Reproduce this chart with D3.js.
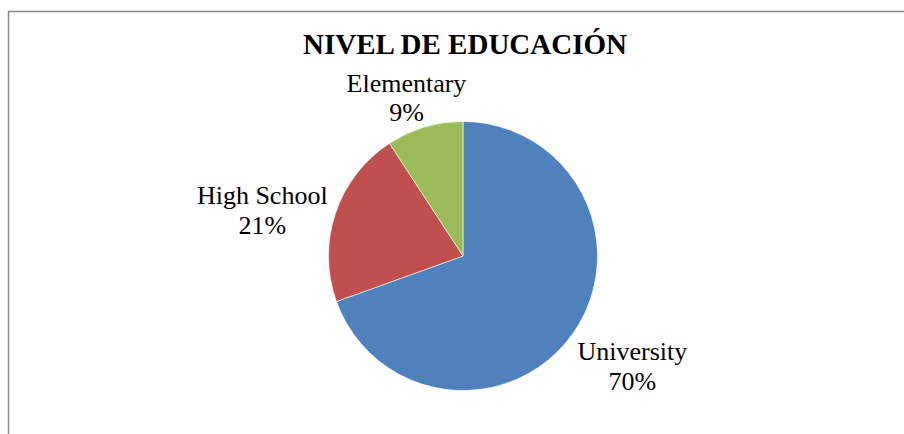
<!DOCTYPE html>
<html>
<head>
<meta charset="utf-8">
<script src="https://cdn.jsdelivr.net/npm/d3@7"></script>
<style>
  body { margin: 0; background: #fff; }
  svg { display: block; }
  text { font-family: "Liberation Serif", "Times New Roman", serif; fill: #000; }
</style>
</head>
<body>
<div id="vis"></div>
<script>
// chart data
var categories = ["University", "High School", "Elementary"];
var values = [69.5, 21.3, 9.2];
var colours = ["#4F81BD", "#C0504D", "#9BBB59"];
var title = "NIVEL DE EDUCACIÓN";

var width = 904;
var height = 434;

var cx = 463, cy = 256, radius = 134.5;

var svg = d3.select("#vis")
    .append("svg")
    .attr("width", width)
    .attr("height", height);

// chart area border (runs off the right and bottom edge)
svg.append("rect")
    .attr("x", 8.5)
    .attr("y", 11.5)
    .attr("width", 1000)
    .attr("height", 1000)
    .attr("fill", "none")
    .attr("stroke", "#8a8a8a")
    .attr("stroke-width", 1.5);

svg.append("text")
    .attr("x", 465)
    .attr("y", 53.5)
    .attr("text-anchor", "middle")
    .style("font-size", "29px")
    .style("font-weight", "bold")
    .text(title);

var data = categories.map(function(c, i) {
    return { name: c, value: values[i], colour: colours[i] };
});

var total = d3.sum(values);

// clockwise from 12 o'clock, University first
var pie = d3.pie()
    .sort(null)
    .value(function(d) { return d.value; });

var arc = d3.arc()
    .innerRadius(0)
    .outerRadius(radius);

var g = svg.append("g")
    .attr("transform", "translate(" + cx + "," + cy + ")");

var arcs = pie(data);

g.selectAll(".slice")
    .data(arcs)
    .enter()
    .append("path")
    .attr("class", "slice")
    .attr("d", arc)
    .attr("fill", function(d) { return d.data.colour; })
    .attr("stroke", "#fff")
    .attr("stroke-width", 0.6);

// labels outside the end of each slice
var labelR = 143;
var fs = 26;
var lineH = 29.5;
var nudge = [3, 10];

var labels = g.selectAll(".label")
    .data(arcs)
    .enter()
    .append("text")
    .attr("class", "label")
    .attr("text-anchor", "middle")
    .style("font-size", fs + "px");

labels.append("tspan")
    .attr("x", 0)
    .attr("dy", 0)
    .text(function(d) { return d.data.name; });

labels.append("tspan")
    .attr("x", 0)
    .attr("dy", lineH)
    .text(function(d) { return Math.round(d.data.value / total * 100) + "%"; });

labels.each(function(d) {
    var a = (d.startAngle + d.endAngle) / 2;
    var ux = Math.sin(a), uy = -Math.cos(a);
    var bb = this.getBBox();
    var w = bb.width, h = bb.height;
    var px = ux * labelR + ux * w / 2 * 1.1 + nudge[0];
    var py = uy * labelR + uy * h / 2 * 1.1 + nudge[1];
    var bcx = bb.x + w / 2, bcy = bb.y + h / 2;
    d3.select(this).attr("transform", "translate(" + (px - bcx) + "," + (py - bcy) + ")");
});
</script>
</body>
</html>
